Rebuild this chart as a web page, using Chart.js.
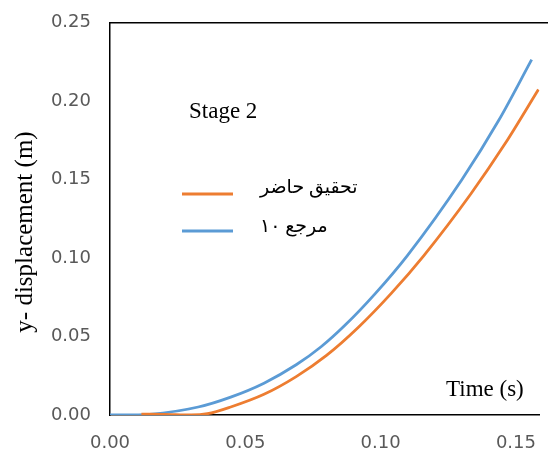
<!DOCTYPE html>
<html>
<head>
<meta charset="utf-8">
<script src="https://cdn.jsdelivr.net/npm/chart.js@4/dist/chart.umd.min.js"></script>
<style>
  html, body { margin: 0; padding: 0; background: #fff; }
  #wrap { width: 548px; height: 455px; position: relative; }
</style>
</head>
<body>
<div id="wrap"><canvas id="chartContainer1"></canvas></div>
<script>
"use strict";

// 1: data
const timeOrange = [0.0116, 0.020, 0.030, 0.036, 0.0446, 0.0569, 0.0688, 0.080, 0.0917, 0.104, 0.1159, 0.1333, 0.1460, 0.1583];
const dispOrange = [0.0005, 0.0004, 0.0000, 0.0008, 0.0051, 0.0132, 0.0245, 0.0380, 0.0558, 0.0777, 0.1015, 0.1409, 0.1730, 0.2075];

const timeRef = [0.000, 0.010, 0.0145, 0.0326, 0.0446, 0.0569, 0.0688, 0.078, 0.087, 0.098, 0.1098, 0.1300, 0.1437, 0.1558];
const dispRef = [0.000, 0.0001, 0.0004, 0.0051, 0.0114, 0.0203, 0.0320, 0.0435, 0.0575, 0.0774, 0.1015, 0.1500, 0.1880, 0.2265];

const seriesLabels = ["تحقيق حاضر", "مرجع ١٠"];
const seriesColors = ["#ED7D31", "#5B9BD5"];
const yTitle = "y- displacement (m)";
const xTitle = "Time (s)";
const noteText = "Stage 2";
const yTicks = [0, 0.05, 0.10, 0.15, 0.20, 0.25];
const xTicks = [0, 0.05, 0.10, 0.15];

function toPoints(xs, ys) {
	return xs.map((x, i) => ({ x: x, y: ys[i] }));
}

// 2: text and frame drawn on top of the chart area
const overlay = {
	id: "overlay",
	afterDraw(chart) {
		const ctx = chart.ctx;
		const area = chart.chartArea;
		ctx.save();
		// top frame line
		ctx.strokeStyle = "#000";
		ctx.lineWidth = 1.5;
		ctx.beginPath();
		ctx.moveTo(area.left, area.top);
		ctx.lineTo(chart.width, area.top);
		ctx.stroke();

		ctx.fillStyle = "#000";
		ctx.textBaseline = "middle";
		ctx.textAlign = "left";
		ctx.font = "23px 'Liberation Serif', serif";
		ctx.fillText(noteText, 189, 112);
		ctx.fillText(xTitle, 446, 390);

		// y axis title
		ctx.save();
		ctx.translate(25, 232);
		ctx.rotate(-Math.PI / 2);
		ctx.textAlign = "center";
		ctx.font = "25px 'Liberation Serif', serif";
		ctx.fillText(yTitle, 0, 0);
		ctx.restore();

		// legend
		chart.data.datasets.forEach((ds, i) => {
			const y = [194, 231][i];
			ctx.strokeStyle = ds.borderColor;
			ctx.lineWidth = 3;
			ctx.beginPath();
			ctx.moveTo(182, y);
			ctx.lineTo(233, y);
			ctx.stroke();
			ctx.fillStyle = "#000";
			ctx.font = "19px 'Liberation Serif', 'DejaVu Serif', 'DejaVu Sans', serif";
			ctx.fillText(ds.label, 260, y - 6 + i * 2);
		});
		ctx.restore();
	}
};

// 3: create the chart
new Chart(document.querySelector("#chartContainer1"), {
	type: "line",
	data: {
		datasets: [{
			label: seriesLabels[0],
			data: toPoints(timeOrange, dispOrange),
			borderColor: seriesColors[0],
			borderWidth: 2.8,
			pointRadius: 0,
			cubicInterpolationMode: "monotone"
		}, {
			label: seriesLabels[1],
			data: toPoints(timeRef, dispRef),
			borderColor: seriesColors[1],
			borderWidth: 2.8,
			pointRadius: 0,
			cubicInterpolationMode: "monotone"
		}]
	},
	options: {
		responsive: true,
		maintainAspectRatio: false,
		animation: false,
		layout: { padding: { top: 21, right: 0, left: 0, bottom: 0 } },
		plugins: {
			legend: { display: false },
			tooltip: { enabled: false }
		},
		scales: {
			x: {
				type: "linear",
				min: 0,
				max: 0.1587,
				afterBuildTicks: (s) => { s.ticks = xTicks.map(v => ({ value: v })); },
				afterFit: (s) => { s.height = 40; },
				grid: { display: false, drawTicks: true, tickLength: 6, tickColor: "#000" },
				border: { display: true, color: "#000", width: 1.5 },
				ticks: {
					color: "#595959",
					font: { family: "'DejaVu Sans', sans-serif", size: 18 },
					padding: 12,
					maxRotation: 0,
					callback: (v) => v.toFixed(2)
				}
			},
			y: {
				min: 0,
				max: 0.25,
				afterBuildTicks: (s) => { s.ticks = yTicks.map(v => ({ value: v })); },
				afterFit: (s) => { s.width = 110; },
				grid: { display: false, drawTicks: true, tickLength: 7, tickColor: "#000" },
				border: { display: true, color: "#000", width: 1.5 },
				ticks: {
					color: "#595959",
					font: { family: "'DejaVu Sans', sans-serif", size: 18 },
					padding: 12,
					callback: (v) => v.toFixed(2)
				}
			}
		}
	},
	plugins: [overlay]
});
</script>
</body>
</html>
